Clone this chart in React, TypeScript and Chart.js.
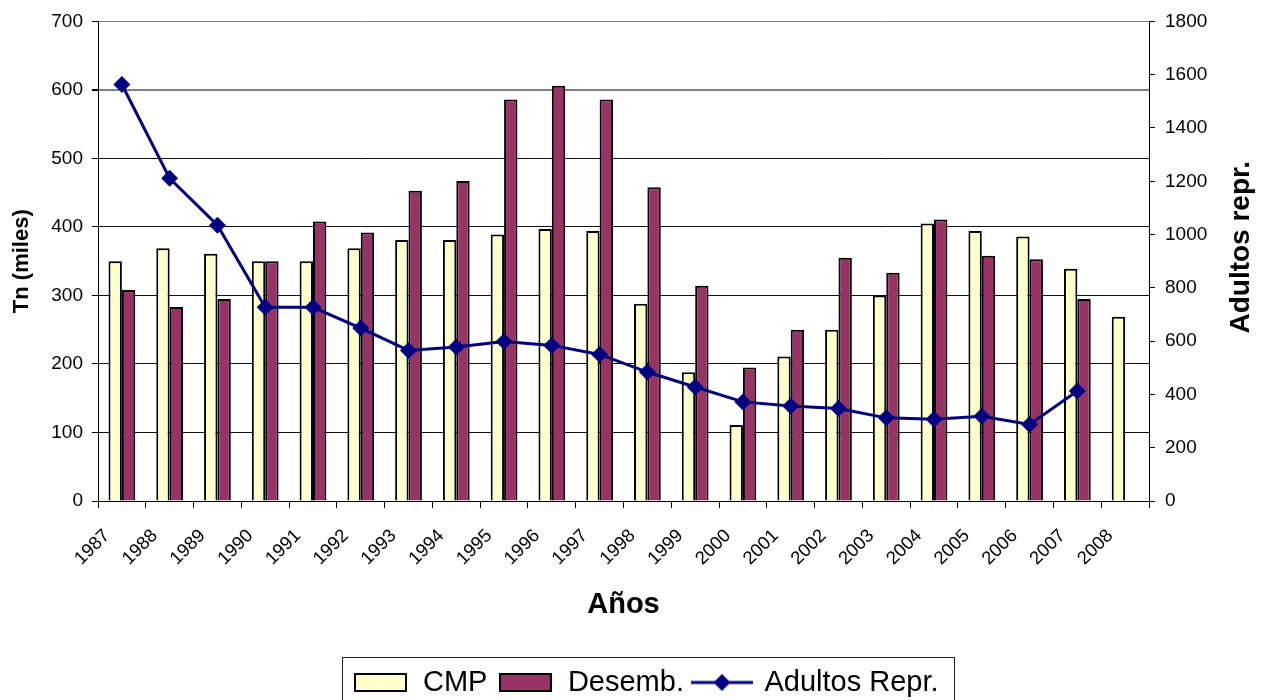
import React, { useEffect, useRef } from 'react';
import { Chart, registerables } from 'chart.js';

Chart.register(...registerables);

const years = ['1987', '1988', '1989', '1990', '1991', '1992', '1993', '1994', '1995', '1996', '1997',
  '1998', '1999', '2000', '2001', '2002', '2003', '2004', '2005', '2006', '2007', '2008'];
const cmp = [350, 369, 361, 350, 350, 369, 381, 381, 389, 397, 394, 288, 188, 111, 211, 250, 300, 405, 394, 386, 339, 269];
const desemb = [308, 283, 295, 350, 408, 392, 453, 467, 586, 606, 586, 458, 314, 195, 250, 355, 333, 411, 358, 353, 295, null];
const adultos = [1563, 1211, 1035, 727, 727, 649, 565, 578, 599, 584, 550, 484, 428, 372, 357, 347, 312, 307, 318, 287, 413, null];

const seriesNames = ['CMP', 'Desemb.', 'Adultos Repr.'];
const FONT = "'Liberation Sans', Arial, Helvetica, sans-serif";
const C_CMP = '#FFFFCC';
const C_DES = '#993366';
const C_LINE = '#000080';

function boxSwatch(fill: string) {
  const c = document.createElement('canvas');
  c.width = 53; c.height = 19;
  const g = c.getContext('2d')!;
  g.fillStyle = fill;
  g.fillRect(1, 1, 51, 17);
  g.strokeStyle = '#000';
  g.lineWidth = 2;
  g.strokeRect(1, 1, 51, 17);
  return c;
}

function lineSwatch() {
  const c = document.createElement('canvas');
  c.width = 62; c.height = 20;
  const g = c.getContext('2d')!;
  g.strokeStyle = C_LINE;
  g.lineWidth = 3;
  g.beginPath(); g.moveTo(0, 10); g.lineTo(62, 10); g.stroke();
  g.fillStyle = C_LINE;
  g.beginPath(); g.moveTo(31, 1.5); g.lineTo(39.5, 10); g.lineTo(31, 18.5); g.lineTo(22.5, 10); g.closePath(); g.fill();
  return c;
}

export default function App() {
  const ref = useRef<HTMLCanvasElement>(null);
  useEffect(() => {
    const swCmp = boxSwatch(C_CMP);
    const swDes = boxSwatch(C_DES);
    const swLine = lineSwatch();

    const legendShift = {
      id: 'legendShift',
      afterLayout(chart: any) {
        const l = chart.legend;
        if (l) { l.left += 15; l.right += 15; l.top += 7; l.bottom += 7; }
      },
    };
    const legendBorder = {
      id: 'legendBorder',
      afterDraw(chart: any) {
        const l = chart.legend;
        const hb = l && l.legendHitBoxes;
        if (!hb || !hb.length) return;
        const left = hb[0].left - 10;
        const last = hb[hb.length - 1];
        const right = last.left + last.width + 16;
        const top = hb[0].top - 11;
        const c = chart.ctx;
        c.save();
        c.strokeStyle = '#222';
        c.lineWidth = 1;
        c.strokeRect(Math.round(left) + 0.5, Math.round(top) + 0.5, Math.round(right - left), chart.height - top + 5);
        c.restore();
      },
    };
    const rightTitle = {
      id: 'rightTitle',
      afterDraw(chart: any) {
        const s = chart.scales.y1;
        const c = chart.ctx;
        c.save();
        c.font = `bold 28px ${FONT}`;
        c.fillStyle = '#000';
        c.textAlign = 'center';
        c.textBaseline = 'middle';
        c.translate(s.right - 20, (s.top + s.bottom) / 2 - 14);
        c.rotate(-Math.PI / 2);
        c.fillText('Adultos repr.', 0, 0);
        c.restore();
      },
    };

    const chart = new Chart(ref.current!, {
      type: 'bar',
      data: {
        labels: years,
        datasets: [
          {
            type: 'line',
            label: seriesNames[2],
            data: adultos,
            yAxisID: 'y1',
            borderColor: C_LINE,
            backgroundColor: C_LINE,
            borderWidth: 3,
            pointStyle: 'rectRot',
            pointRadius: 8.5,
            pointBackgroundColor: C_LINE,
            pointBorderColor: C_LINE,
            pointBorderWidth: 0,
            tension: 0,
            order: 0,
          } as any,
          {
            label: seriesNames[0],
            data: cmp,
            yAxisID: 'y',
            backgroundColor: C_CMP,
            borderColor: '#000',
            borderWidth: 2,
            categoryPercentage: 0.56,
            barPercentage: 1,
            order: 1,
          },
          {
            label: seriesNames[1],
            data: desemb,
            yAxisID: 'y',
            backgroundColor: C_DES,
            borderColor: '#000',
            borderWidth: 2,
            categoryPercentage: 0.56,
            barPercentage: 1,
            order: 1,
          },
        ],
      },
      options: {
        animation: false,
        responsive: true,
        maintainAspectRatio: false,
        layout: { padding: { top: 20, left: 0, right: 0, bottom: 0 } },
        plugins: {
          tooltip: { enabled: false },
          legend: {
            position: 'bottom',
            labels: {
              usePointStyle: true,
              pointStyleWidth: 56,
              padding: 10,
              color: '#000',
              font: { family: FONT, size: 29 },
              generateLabels: () => [
                { text: seriesNames[0], pointStyle: swCmp, fillStyle: C_CMP, strokeStyle: '#000', lineWidth: 0, hidden: false, datasetIndex: 1, fontColor: '#000' },
                { text: seriesNames[1], pointStyle: swDes, fillStyle: C_DES, strokeStyle: '#000', lineWidth: 0, hidden: false, datasetIndex: 2, fontColor: '#000' },
                { text: seriesNames[2], pointStyle: swLine, fillStyle: C_LINE, strokeStyle: C_LINE, lineWidth: 0, hidden: false, datasetIndex: 0, fontColor: '#000' },
              ] as any,
            },
          },
        },
        scales: {
          x: {
            offset: true,
            grid: { display: true, drawOnChartArea: false, offset: true, drawTicks: true, tickLength: 7, color: '#000' },
            border: { display: true, color: '#000', width: 1 },
            ticks: {
              color: '#000',
              font: { family: FONT, size: 18.5 },
              minRotation: 45,
              maxRotation: 45,
              autoSkip: false,
              padding: 17,
              labelOffset: -15,
            },
            title: {
              display: true,
              text: 'Años',
              color: '#000',
              font: { family: FONT, size: 29, weight: 'bold' },
              padding: { top: 0, bottom: 29 },
            },
            afterFit: (s: any) => { s.height = 150; },
          },
          y: {
            position: 'left',
            min: 0,
            max: 700,
            ticks: { stepSize: 100, color: '#000', font: { family: FONT, size: 19 }, padding: 9, callback: (v: any) => String(v) },
            grid: {
              color: (ctx: any) => (ctx.tick && (ctx.tick.value === 600 || ctx.tick.value === 700) ? '#808080' : '#111'),
              lineWidth: (ctx: any) => (ctx.tick && ctx.tick.value === 600 ? 2 : 1),
              tickColor: '#000',
              tickLength: 6,
            },
            border: { display: true, color: '#000', width: 1 },
            title: {
              display: true,
              text: 'Tn (miles)',
              color: '#000',
              font: { family: FONT, size: 22, weight: 'bold' },
              padding: { top: 9, bottom: 0 },
            },
            afterFit: (s: any) => { s.width = 98; },
          },
          y1: {
            position: 'right',
            min: 0,
            max: 1800,
            ticks: { stepSize: 200, color: '#000', font: { family: FONT, size: 19 }, padding: 10, callback: (v: any) => String(v) },
            grid: { drawOnChartArea: false, tickColor: '#000', tickLength: 6 },
            border: { display: true, color: '#000', width: 1 },
            afterFit: (s: any) => { s.width = 112; },
          },
        },
      },
      plugins: [legendShift, legendBorder, rightTitle],
    } as any);
    return () => chart.destroy();
  }, []);

  return (
    <div style={{ position: 'fixed', left: 0, top: 0, width: 1261, height: 700, background: '#fff' }}>
      <canvas ref={ref} />
    </div>
  );
}
